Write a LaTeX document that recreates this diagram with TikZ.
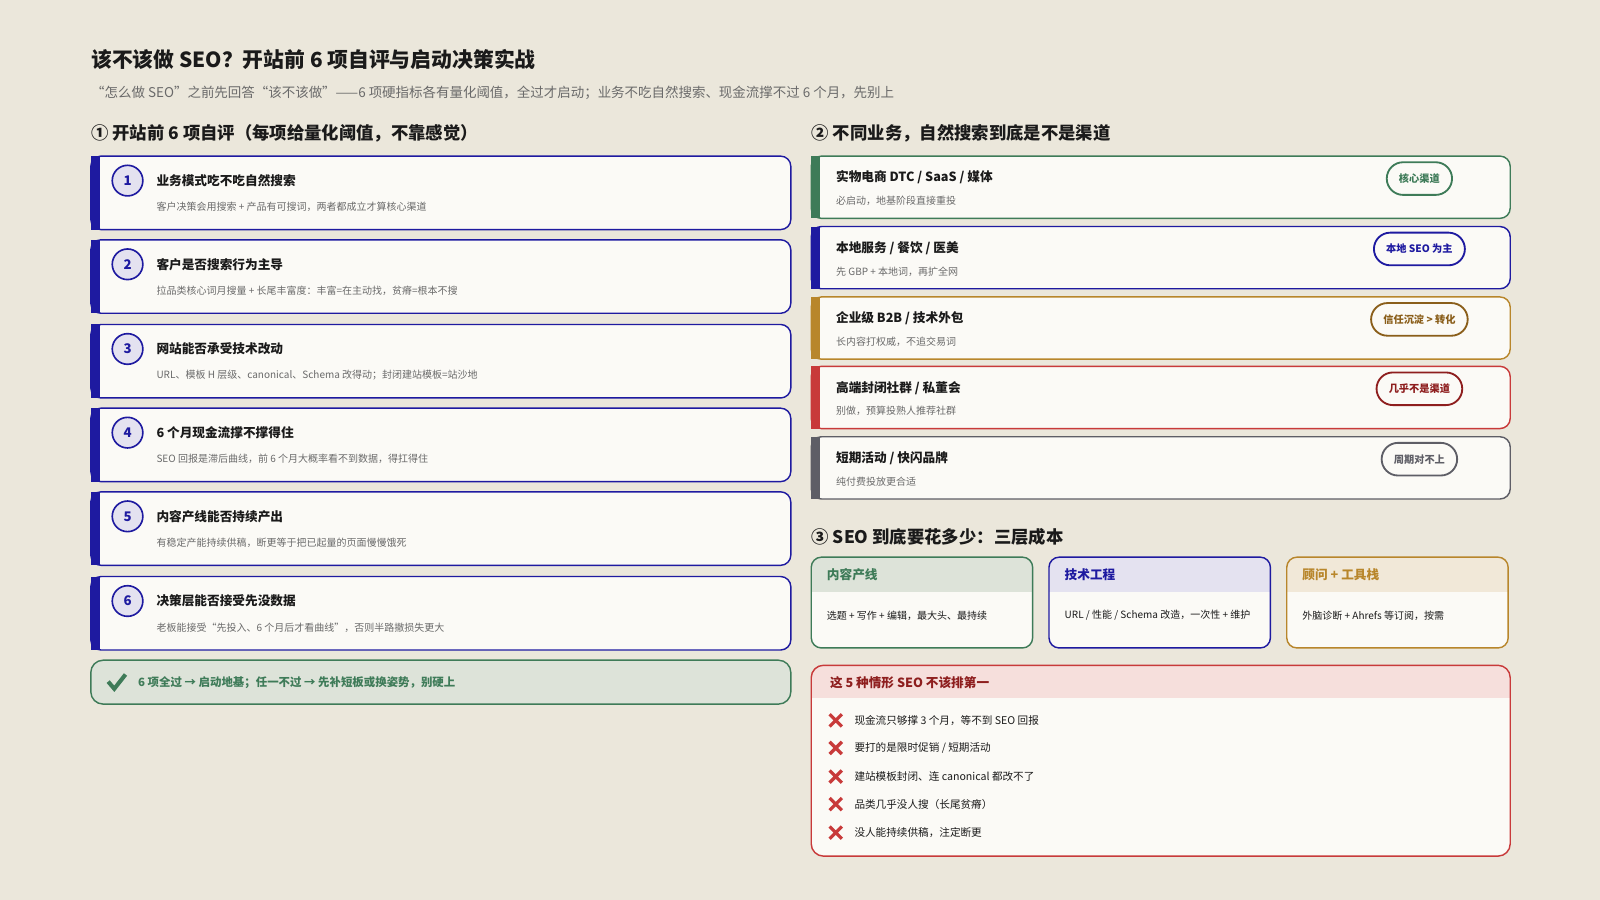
\documentclass[tikz,border=0pt]{standalone}
\usepackage{fontspec}
\setmainfont{Noto Sans CJK SC}
\usetikzlibrary{positioning}
\definecolor{bg}{HTML}{EBE7DB}
\definecolor{card}{HTML}{FBFAF6}
\definecolor{ind}{HTML}{1E1AA0}
\definecolor{indl}{HTML}{E4E2F0}
\definecolor{grn}{HTML}{3E7B58}
\definecolor{grnl}{HTML}{DDE3D9}
\definecolor{gold}{HTML}{B8862B}
\definecolor{goldd}{HTML}{8A5E1A}
\definecolor{goldl}{HTML}{F1E8D8}
\definecolor{red}{HTML}{C83A3A}
\definecolor{redd}{HTML}{8E1E1E}
\definecolor{redl}{HTML}{F6DFDC}
\definecolor{gry}{HTML}{5E5E66}
\definecolor{txt}{HTML}{1A1A1A}
\definecolor{sub}{HTML}{6A6A6A}
\tikzset{
 cardbox/.style={draw=#1,line width=0.7pt,fill=card,rounded corners=5pt},
 ttl/.style={anchor=west,font=\bfseries\fontsize{6.2}{7}\selectfont,text=txt,inner sep=0},
 dsc/.style={anchor=west,font=\fontsize{4.9}{6}\selectfont,text=sub,inner sep=0},
 badge/.style={draw=#1,line width=0.9pt,text=#1,rounded corners=8pt,font=\bfseries\fontsize{5}{6}\selectfont,minimum height=16pt,inner xsep=6pt,fill=card},
 hdr/.style={anchor=west,font=\bfseries\fontsize{8.5}{10}\selectfont,text=txt,inner sep=0},
}
\newcommand{\leftcard}[5]{%
 \draw[cardbox=ind] (89,#2) rectangle (775,#2+72);
 \fill[ind] (89,#2) rectangle (98,#2+72);
 \node[circle,draw=ind,line width=0.8pt,fill=indl,minimum size=15pt,inner sep=0,text=ind,font=\bfseries\fontsize{6.5}{7}\selectfont] (#1n) at (125,#2+24) {#3};
 \node[ttl] (#1t) at (153,#2+24) {#4};
 \node[dsc] (#1d) at (153,#2+50) {#5};}
\newcommand{\rightcard}[7]{%
 \draw[cardbox=#3] (795,#2) rectangle (1480,#2+61);
 \fill[#3] (795,#2) rectangle (804,#2+61);
 \node[ttl] (#1t) at (819,#2+21) {#4};
 \node[dsc] (#1d) at (819,#2+44) {#5};
 \node[badge=#6] (#1b) at (1391,#2+22) {#7};}
\newcommand{\costcard}[6]{%
 \fill[card,rounded corners=5pt] (#2,546) rectangle (#2+217,635);
 \begin{scope}\clip[rounded corners=5pt] (#2,546) rectangle (#2+217,635);
 \fill[#4] (#2,546) rectangle (#2+217,580);\end{scope}
 \draw[#3,line width=0.7pt,rounded corners=5pt] (#2,546) rectangle (#2+217,635);
 \node[anchor=west,inner sep=0,text=#3,font=\bfseries\fontsize{6.2}{7}\selectfont] (#1t) at (#2+15,563) {#5};
 \node[dsc,text=txt] (#1d) at (#2+15,603) {#6};}
\newcommand{\xitem}[3]{%
 \draw[red,line width=1.6pt] (813,#2-6) -- (825,#2+6) (813,#2+6) -- (825,#2-6);
 \node[dsc,text=txt,font=\fontsize{5.2}{6}\selectfont] (#1) at (837,#2) {#3};}
\begin{document}
\begin{tikzpicture}[x=0.5pt,y=-0.5pt]
\fill[bg] (0,0) rectangle (1568,882);
\useasboundingbox (0,0) rectangle (1568,882);
\node[anchor=west,inner sep=0,font=\bfseries\fontsize{10.2}{12}\selectfont,text=txt] (title) at (89,58) {该不该做 SEO？开站前 6 项自评与启动决策实战};
\node[anchor=west,inner sep=0,font=\fontsize{6.6}{8}\selectfont,text=sub] (subt) at (89,91) {“怎么做 SEO”之前先回答“该不该做”——6 项硬指标各有量化阈值，全过才启动；业务不吃自然搜索、现金流撑不过 6 个月，先别上};
\node[hdr] (h1) at (89,131) {① 开站前 6 项自评（每项给量化阈值，不靠感觉）};
\node[hdr] (h2) at (795,131) {② 不同业务，自然搜索到底是不是渠道};
\node[hdr] (h3) at (795,526) {③ SEO 到底要花多少：三层成本};
\leftcard{c1}{153}{1}{业务模式吃不吃自然搜索}{客户决策会用搜索 + 产品有可搜词，两者都成立才算核心渠道}
\leftcard{c2}{235}{2}{客户是否搜索行为主导}{拉品类核心词月搜量 + 长尾丰富度：丰富=在主动找，贫瘠=根本不搜}
\leftcard{c3}{318}{3}{网站能否承受技术改动}{URL、模板 H 层级、canonical、Schema 改得动；封闭建站模板=站沙地}
\leftcard{c4}{400}{4}{6 个月现金流撑不撑得住}{SEO 回报是滞后曲线，前 6 个月大概率看不到数据，得扛得住}
\leftcard{c5}{482}{5}{内容产线能否持续产出}{有稳定产能持续供稿，断更等于把已起量的页面慢慢饿死}
\leftcard{c6}{565}{6}{决策层能否接受先没数据}{老板能接受“先投入、6 个月后才看曲线”，否则半路撤损失更大}
\draw[draw=grn,line width=0.7pt,fill=grnl,rounded corners=6pt] (89,647) rectangle (775,690);
\draw[grn,line width=2pt] (106,668) -- (112,675) -- (123,661);
\node[anchor=west,inner sep=0,text=grn,font=\bfseries\fontsize{5.6}{7}\selectfont] (pass) at (135,669) {6 项全过 → 启动地基；任一不过 → 先补短板或换姿势，别硬上};
\rightcard{r1}{153}{grn}{实物电商 DTC / SaaS / 媒体}{必启动，地基阶段直接重投}{grn}{核心渠道}
\rightcard{r2}{222}{ind}{本地服务 / 餐饮 / 医美}{先 GBP + 本地词，再扩全网}{ind}{本地 SEO 为主}
\rightcard{r3}{291}{gold}{企业级 B2B / 技术外包}{长内容打权威，不追交易词}{goldd}{信任沉淀 > 转化}
\rightcard{r4}{359}{red}{高端封闭社群 / 私董会}{别做，预算投熟人推荐社群}{redd}{几乎不是渠道}
\rightcard{r5}{428}{gry}{短期活动 / 快闪品牌}{纯付费投放更合适}{gry}{周期对不上}
\costcard{k1}{795}{grn}{grnl}{内容产线}{选题 + 写作 + 编辑，最大头、最持续}
\costcard{k2}{1028}{ind}{indl}{技术工程}{URL / 性能 / Schema 改造，一次性 + 维护}
\costcard{k3}{1261}{gold}{goldl}{顾问 + 工具栈}{外脑诊断 + Ahrefs 等订阅，按需}
\begin{scope}\clip[rounded corners=6pt] (795,652) rectangle (1480,839);
\fill[card] (795,652) rectangle (1480,839);
\fill[redl] (795,652) rectangle (1480,684);\end{scope}
\draw[red,line width=0.7pt,rounded corners=6pt] (795,652) rectangle (1480,839);
\node[anchor=west,inner sep=0,text=redd,font=\bfseries\fontsize{6.2}{7}\selectfont] (nt) at (813,669) {这 5 种情形 SEO 不该排第一};
\xitem{x1}{706}{现金流只够撑 3 个月，等不到 SEO 回报}
\xitem{x2}{733}{要打的是限时促销 / 短期活动}
\xitem{x3}{761}{建站模板封闭、连 canonical 都改不了}
\xitem{x4}{788}{品类几乎没人搜（长尾贫瘠）}
\xitem{x5}{816}{没人能持续供稿，注定断更}
\end{tikzpicture}
\end{document}
